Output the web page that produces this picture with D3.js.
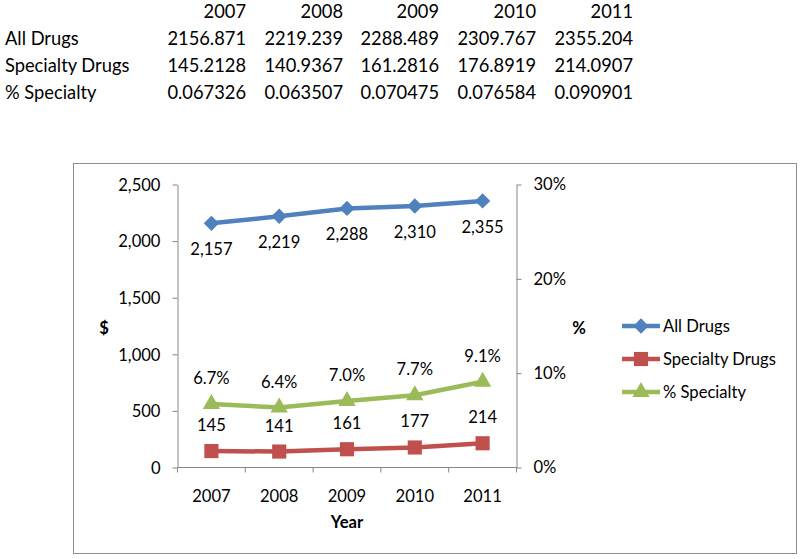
<!DOCTYPE html>
<html>
<head>
<meta charset="utf-8">
<script src="https://cdn.jsdelivr.net/npm/d3@7"></script>
<style>
  html, body { margin: 0; padding: 0; background: #fff; }
  svg { display: block; font-family: Lato, "Open Sans", sans-serif; }
</style>
</head>
<body>
<script>
const years = ["2007", "2008", "2009", "2010", "2011"];
const allDrugs = [2156.871, 2219.239, 2288.489, 2309.767, 2355.204];
const specialtyDrugs = [145.2128, 140.9367, 161.2816, 176.8919, 214.0907];
const pctSpecialty = [0.067326, 0.063507, 0.070475, 0.076584, 0.090901];
const seriesNames = ["All Drugs", "Specialty Drugs", "% Specialty"];
const leftTicks = [0, 500, 1000, 1500, 2000, 2500];
const rightTicks = [0, 0.1, 0.2, 0.3];

const W = 800, H = 559;
const svg = d3.select("body").append("svg").attr("width", W).attr("height", H);

// ---- Table (spreadsheet cells) ----
const tableFont = 18.3;
const colRight = [246, 343, 439, 536, 633];
const rowBase = [18, 45, 72, 99];
const tbl = svg.append("g").attr("font-size", tableFont).attr("fill", "#000");
years.forEach((y, i) => tbl.append("text").attr("x", colRight[i]).attr("y", rowBase[0]).attr("text-anchor", "end").text(y));
[[seriesNames[0], allDrugs], [seriesNames[1], specialtyDrugs], [seriesNames[2], pctSpecialty]].forEach(([name, vals], r) => {
  tbl.append("text").attr("x", 5).attr("y", rowBase[r + 1]).text(name);
  vals.forEach((v, i) => tbl.append("text").attr("x", colRight[i]).attr("y", rowBase[r + 1]).attr("text-anchor", "end").text(String(v)));
});

// ---- Chart ----
const chartFont = 16.6;
svg.append("rect").attr("x", 73.5).attr("y", 163.5).attr("width", 723).attr("height", 390)
  .attr("fill", "#fff").attr("stroke", "#8e8e8e").attr("stroke-width", 1);

const x = d3.scaleBand().domain(years).range([177.5, 516.5]).paddingInner(0).paddingOuter(0);
const yL = d3.scaleLinear().domain([0, 2500]).range([467.5, 184.5]);
const yR = d3.scaleLinear().domain([0, 0.3]).range([467.5, 184.5]);
const cx = d => x(d) + x.bandwidth() / 2;

const axisColor = "#868686";
function styleAxis(g) {
  g.select(".domain").attr("stroke", axisColor).attr("stroke-width", 1);
  g.selectAll(".tick line").attr("stroke", axisColor);
  g.selectAll(".tick text").attr("font-size", chartFont).attr("font-family", "Lato, 'Open Sans', sans-serif").attr("fill", "#000");
}

// Left axis
const gL = svg.append("g").attr("transform", "translate(177.5,0)")
  .call(d3.axisLeft(yL).tickValues(leftTicks).tickFormat(d3.format(",")).tickSizeInner(5).tickSizeOuter(0).tickPadding(12));
styleAxis(gL);
gL.selectAll(".tick text").attr("dy", "0.35em");

// Right axis
const gR = svg.append("g").attr("transform", "translate(516.5,0)")
  .call(d3.axisRight(yR).tickValues(rightTicks).tickFormat(d3.format(".0%")).tickSizeInner(5).tickSizeOuter(0).tickPadding(12));
styleAxis(gR);

// Bottom axis with ticks between categories
const gB = svg.append("g").attr("transform", "translate(0,467.5)")
  .call(d3.axisBottom(x).tickSize(0).tickPadding(23));
styleAxis(gB);
gB.select(".domain").attr("d", `M177.5,0H516.5`);
const boundaries = years.map(d => x(d)).concat([x(years[years.length - 1]) + x.bandwidth()]);
gB.selectAll(".bound").data(boundaries).join("line").attr("class", "bound")
  .attr("x1", d => d).attr("x2", d => d).attr("y1", 0).attr("y2", 5).attr("stroke", axisColor);

// Axis titles
svg.append("text").attr("x", 104).attr("y", 334).attr("text-anchor", "middle").attr("font-weight", "bold").attr("font-size", chartFont).text("$");
svg.append("text").attr("x", 579).attr("y", 334).attr("text-anchor", "middle").attr("font-weight", "bold").attr("font-size", chartFont).text("%");
svg.append("text").attr("x", 347).attr("y", 528).attr("text-anchor", "middle").attr("font-weight", "bold").attr("font-size", chartFont).text("Year");

const colors = ["#4F81BD", "#C0504D", "#9BBB59"];
const diamond = d3.symbol().type(d3.symbolDiamond2).size(150);
const square = d3.symbol().type(d3.symbolSquare).size(200);
const triangle = d3.symbol().type(d3.symbolTriangle).size(130);

const series = [
  { name: seriesNames[0], vals: allDrugs, y: yL, color: colors[0], sym: diamond, fmt: d3.format(",.0f"), dy: 32 },
  { name: seriesNames[1], vals: specialtyDrugs, y: yL, color: colors[1], sym: square, fmt: d3.format(",.0f"), dy: -20 },
  { name: seriesNames[2], vals: pctSpecialty, y: yR, color: colors[2], sym: triangle, fmt: d3.format(".1%"), dy: -20 }
];

series.forEach(s => {
  const pts = years.map((yr, i) => [cx(yr), s.y(s.vals[i])]);
  svg.append("path").attr("d", d3.line()(pts)).attr("fill", "none").attr("stroke", s.color)
    .attr("stroke-width", 4.5).attr("stroke-linejoin", "round").attr("stroke-linecap", "round");
  svg.append("g").selectAll("path").data(pts).join("path")
    .attr("transform", d => `translate(${d[0]},${d[1]})`).attr("d", s.sym).attr("fill", s.color);
  svg.append("g").selectAll("text").data(years).join("text")
    .attr("x", d => cx(d)).attr("y", (d, i) => s.y(s.vals[i]) + s.dy)
    .attr("text-anchor", "middle").attr("font-size", chartFont).attr("fill", "#000")
    .text((d, i) => s.fmt(s.vals[i]));
});

// Legend
const legY = [326, 359, 392];
series.forEach((s, i) => {
  const g = svg.append("g").attr("transform", `translate(0,${legY[i]})`);
  g.append("line").attr("x1", 622).attr("x2", 660).attr("y1", 0).attr("y2", 0).attr("stroke", s.color).attr("stroke-width", 4.5);
  g.append("path").attr("transform", "translate(641,0)").attr("d", s.sym).attr("fill", s.color);
  g.append("text").attr("x", 663).attr("y", 0).attr("dy", "0.35em").attr("font-size", chartFont).text(s.name);
});
</script>
</body>
</html>
